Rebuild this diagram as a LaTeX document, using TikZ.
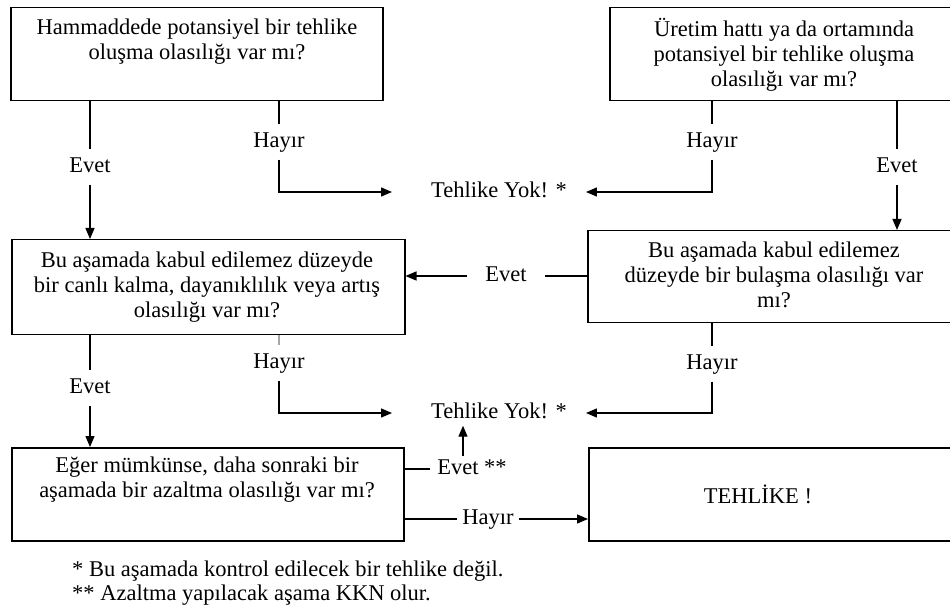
\documentclass[tikz,border=0pt]{standalone}
\usepackage{fontspec}
\setmainfont{Liberation Serif}
\usetikzlibrary{arrows.meta}
\begin{document}
\begin{tikzpicture}[x=1pt,y=-1pt,
  box/.style={draw,line width=1.5pt,anchor=north west,inner sep=0pt},
  txt/.style={align=center,inner sep=0pt,font=\fontsize{22.5}{25}\selectfont},
  lbl/.style={inner xsep=3pt,inner ysep=8pt,text height=15pt,text depth=4pt,font=\fontsize{22.5}{25}\selectfont},
  note/.style={anchor=base west,inner sep=0pt,font=\fontsize{22.5}{25}\selectfont},
  con/.style={line width=1.3pt},
  arr/.style={con,-{Triangle[length=11pt,width=9pt]}}]
\useasboundingbox (0,0) rectangle (950,609);
\clip (0,0) rectangle (950,609);

% question boxes (the right-hand column runs past the page edge)
\node[box,minimum width=372pt,minimum height=93pt] (b1) at (10,7) {};
\node[box,minimum width=420pt,minimum height=93pt] (b2) at (609,7) {};
\node[box,minimum width=393pt,minimum height=95pt] (b3) at (11,239) {};
\node[box,minimum width=420pt,minimum height=92pt] (b4) at (587,230) {};
\node[box,minimum width=392pt,minimum height=93pt] (b5) at (11,447) {};
\node[box,minimum width=420pt,minimum height=93pt] (b6) at (588,447) {};

% box texts
\node[txt] (t1) at (197,42) {Hammaddede potansiyel bir tehlike\\oluşma olasılığı var mı?};
\node[txt] (t2) at (784,55) {Üretim hattı ya da ortamında\\potansiyel bir tehlike oluşma\\olasılığı var mı?};
\node[txt] (t3) at (207,287) {Bu aşamada kabul edilemez düzeyde\\bir canlı kalma, dayanıklılık veya artış\\olasılığı var mı?};
\node[txt] (t4) at (774,275) {Bu aşamada kabul edilemez\\düzeyde bir bulaşma olasılığı var\\mı?};
\node[txt] (t5) at (207,480) {Eğer mümkünse, daha sonraki bir\\aşamada bir azaltma olasılığı var mı?};
\node[txt] (t6) at (758,494) {TEHLİKE !};

% outcomes
\node[lbl,inner xsep=0pt,inner ysep=3pt] (y1) at (499,192) {Tehlike Yok! *};
\node[lbl,inner xsep=0pt,inner ysep=3pt] (y2) at (499,413) {Tehlike Yok! *};

% answer labels
\node[lbl] (e1) at (90,167) {Evet};
\node[lbl] (h1) at (279,142) {Hayır};
\node[lbl] (h2) at (712,142) {Hayır};
\node[lbl] (e2) at (897,167) {Evet};
\node[lbl,inner xsep=18pt] (e4) at (506,276) {Evet};
\node[lbl] (h4) at (712,364) {Hayır};
\node[lbl] (e3) at (90,388) {Evet};
\node[lbl] (h3) at (279,363) {Hayır};
\node[lbl,inner xsep=7pt,inner ysep=3pt] (e5) at (472,469) {Evet **};
\node[lbl,inner xsep=5pt] (h5) at (488,519) {Hayır};

% connectors
\draw[con] (e1 |- b1.south) -- (e1.north);
\draw[arr] (e1.south) -- (e1 |- b3.north);
\draw[con] (h1 |- b1.south) -- (h1.north);
\draw[arr,shorten >=39pt] (h1.south) |- (y1.west);
\draw[con] (h2 |- b2.south) -- (h2.north);
\draw[arr,shorten >=19pt] (h2.south) |- (y1.east);
\draw[con] (e2 |- b2.south) -- (e2.north);
\draw[arr] (e2.south) -- (e2 |- b4.north);
\draw[con] (b4.west |- e4) -- (e4.east);
\draw[arr] (e4.west) -- (b3.east |- e4);
\draw[con] (h4 |- b4.south) -- (h4.north);
\draw[arr,shorten >=19pt] (h4.south) |- (y2.east);
\draw[con] (e3 |- b3.south) -- (e3.north);
\draw[arr] (e3.south) -- (e3 |- b5.north);
\draw[con,draw=gray!70] (h3 |- b3.south) -- (h3.north);
\draw[arr,shorten >=39pt] (h3.south) |- (y2.west);
\draw[con] (b5.east |- e5) -- (e5.west);
\draw[arr] ([xshift=-9pt]e5.north) -- ([xshift=-9pt]e5.north |- y2.south);
\draw[con] (b5.east |- h5) -- (h5.west);
\draw[arr] (h5.east) -- (b6.west |- h5);

% footnotes
\node[note] (n1) at (72,576) {* Bu aşamada kontrol edilecek bir tehlike değil.};
\node[note] (n2) at (72,600) {** Azaltma yapılacak aşama KKN olur.};
\end{tikzpicture}
\end{document}
